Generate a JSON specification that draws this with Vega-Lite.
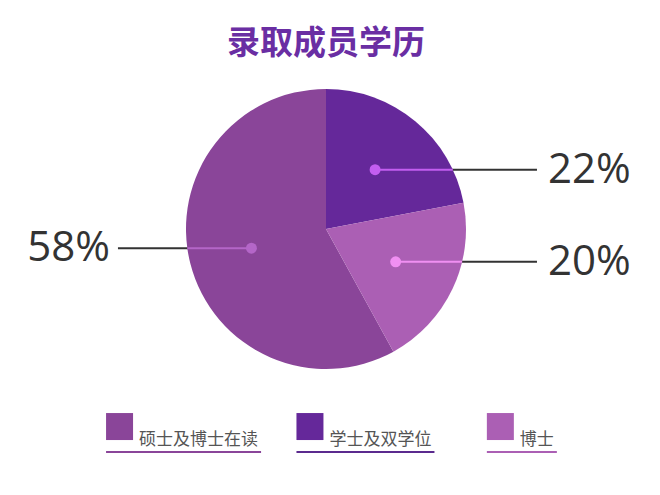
{
  "$schema": "https://vega.github.io/schema/vega-lite/v6.json",
  "width": 652,
  "height": 458,
  "autosize": {"type": "none"},
  "padding": {"left": 0, "top": 0, "right": 8, "bottom": 37},
  "background": "white",
  "title": {
    "text": "录取成员学历",
    "anchor": "middle",
    "font": "Noto Sans CJK SC",
    "fontSize": 33,
    "fontWeight": "bold",
    "color": "#6a2ea3",
    "baseline": "top",
    "offset": 0,
    "dy": 61
  },
  "data": {
    "values": [
      {"学历": "硕士及博士在读", "占比": 58},
      {"学历": "学士及双学位", "占比": 22},
      {"学历": "博士", "占比": 20}
    ]
  },
  "transform": [
    {"calculate": "indexof(['学士及双学位', '博士', '硕士及博士在读'], datum['学历'])", "as": "饼序"},
    {"calculate": "indexof(['硕士及博士在读', '学士及双学位', '博士'], datum['学历'])", "as": "图例序"},
    {"window": [{"op": "sum", "field": "占比", "as": "累计"}], "sort": [{"field": "饼序"}]},
    {"calculate": "(datum['累计'] - datum['占比'] / 2) / 100 * 2 * PI", "as": "mid"},
    {"calculate": "0.55 * sin(datum.mid)", "as": "dotX"},
    {"calculate": "0.55 * cos(datum.mid)", "as": "dotY"},
    {"calculate": "datum.dotX > 0 ? 1 : -1", "as": "side"},
    {"calculate": "datum.side * sqrt(1 - datum.dotY * datum.dotY)", "as": "edgeX"},
    {"calculate": "datum.side > 0 ? 1.507 : -1.486", "as": "lineEnd"},
    {"calculate": "datum.side > 0 ? 1.586 : -1.543", "as": "labelX"},
    {"calculate": "datum['占比'] + '%'", "as": "label"},
    {"calculate": "-1.571 + datum['图例序'] * 1.36", "as": "legX"},
    {"calculate": "datum.legX + 0.0964", "as": "legBoxX"},
    {"calculate": "datum.legX + 0.2357", "as": "legTextX"},
    {"calculate": "datum.legX + (36 + length(datum['学历']) * 17) / 140", "as": "legLineEnd"}
  ],
  "layer": [
    {
      "mark": {"type": "rule", "color": "#333333", "strokeWidth": 2},
      "encoding": {
        "x": {"field": "dotX", "type": "quantitative", "scale": {"domain": [-2.32857, 2.32857], "nice": false, "zero": false}, "axis": null},
        "x2": {"field": "lineEnd"},
        "y": {"field": "dotY", "type": "quantitative", "scale": {"domain": [-1.63571, 1.63571], "nice": false, "zero": false}, "axis": null}
      }
    },
    {
      "mark": {"type": "arc", "outerRadius": 140},
      "encoding": {
        "theta": {"field": "占比", "type": "quantitative", "stack": true},
        "order": {"field": "饼序", "type": "quantitative"},
        "color": {
          "field": "学历",
          "type": "nominal",
          "scale": {"domain": ["硕士及博士在读", "学士及双学位", "博士"], "range": ["#8a4599", "#65289a", "#ab5fb4"]},
          "legend": null
        }
      }
    },
    {
      "mark": {"type": "rule", "strokeWidth": 2},
      "encoding": {
        "x": {"field": "dotX", "type": "quantitative", "scale": {"domain": [-2.32857, 2.32857], "nice": false, "zero": false}, "axis": null},
        "x2": {"field": "edgeX"},
        "y": {"field": "dotY", "type": "quantitative", "scale": {"domain": [-1.63571, 1.63571], "nice": false, "zero": false}, "axis": null},
        "color": {
          "field": "学历",
          "type": "nominal",
          "scale": {"domain": ["硕士及博士在读", "学士及双学位", "博士"], "range": ["#b466c8", "#c35ef0", "#f08ff2"]},
          "legend": null
        }
      }
    },
    {
      "mark": {"type": "point", "filled": true, "opacity": 1, "size": 120, "shape": "circle"},
      "encoding": {
        "x": {"field": "dotX", "type": "quantitative", "scale": {"domain": [-2.32857, 2.32857], "nice": false, "zero": false}, "axis": null},
        "y": {"field": "dotY", "type": "quantitative", "scale": {"domain": [-1.63571, 1.63571], "nice": false, "zero": false}, "axis": null},
        "color": {
          "field": "学历",
          "type": "nominal",
          "scale": {"domain": ["硕士及博士在读", "学士及双学位", "博士"], "range": ["#b466c8", "#c35ef0", "#f08ff2"]},
          "legend": null
        }
      }
    },
    {
      "transform": [{"filter": "datum.side > 0"}],
      "mark": {"type": "text", "align": "left", "baseline": "middle", "font": "Open Sans", "fontSize": 42, "color": "#333333"},
      "encoding": {
        "x": {"field": "labelX", "type": "quantitative", "scale": {"domain": [-2.32857, 2.32857], "nice": false, "zero": false}, "axis": null},
        "y": {"field": "dotY", "type": "quantitative", "scale": {"domain": [-1.63571, 1.63571], "nice": false, "zero": false}, "axis": null},
        "text": {"field": "label"}
      }
    },
    {
      "transform": [{"filter": "datum.side < 0"}],
      "mark": {"type": "text", "align": "right", "baseline": "middle", "font": "Open Sans", "fontSize": 42, "color": "#333333"},
      "encoding": {
        "x": {"field": "labelX", "type": "quantitative", "scale": {"domain": [-2.32857, 2.32857], "nice": false, "zero": false}, "axis": null},
        "y": {"field": "dotY", "type": "quantitative", "scale": {"domain": [-1.63571, 1.63571], "nice": false, "zero": false}, "axis": null},
        "text": {"field": "label"}
      }
    },
    {
      "mark": {"type": "point", "shape": "square", "filled": true, "opacity": 1, "size": 729},
      "encoding": {
        "x": {"field": "legBoxX", "type": "quantitative", "scale": {"domain": [-2.32857, 2.32857], "nice": false, "zero": false}, "axis": null},
        "y": {"datum": -1.411, "type": "quantitative", "scale": {"domain": [-1.63571, 1.63571], "nice": false, "zero": false}, "axis": null},
        "color": {
          "field": "学历",
          "type": "nominal",
          "scale": {"domain": ["硕士及博士在读", "学士及双学位", "博士"], "range": ["#8a4599", "#65289a", "#ab5fb4"]},
          "legend": null
        }
      }
    },
    {
      "mark": {"type": "text", "align": "left", "baseline": "alphabetic", "font": "Noto Sans CJK SC", "fontSize": 17, "color": "#555555"},
      "encoding": {
        "x": {"field": "legTextX", "type": "quantitative", "scale": {"domain": [-2.32857, 2.32857], "nice": false, "zero": false}, "axis": null},
        "y": {"datum": -1.543, "type": "quantitative", "scale": {"domain": [-1.63571, 1.63571], "nice": false, "zero": false}, "axis": null},
        "text": {"field": "学历"}
      }
    },
    {
      "mark": {"type": "rule", "strokeWidth": 2},
      "encoding": {
        "x": {"field": "legX", "type": "quantitative", "scale": {"domain": [-2.32857, 2.32857], "nice": false, "zero": false}, "axis": null},
        "x2": {"field": "legLineEnd"},
        "y": {"datum": -1.593, "type": "quantitative", "scale": {"domain": [-1.63571, 1.63571], "nice": false, "zero": false}, "axis": null},
        "color": {
          "field": "学历",
          "type": "nominal",
          "scale": {"domain": ["硕士及博士在读", "学士及双学位", "博士"], "range": ["#8a4599", "#5b2a8e", "#ab5fb4"]},
          "legend": null
        }
      }
    }
  ],
  "resolve": {"scale": {"color": "independent"}},
  "config": {"view": {"stroke": null}}
}
